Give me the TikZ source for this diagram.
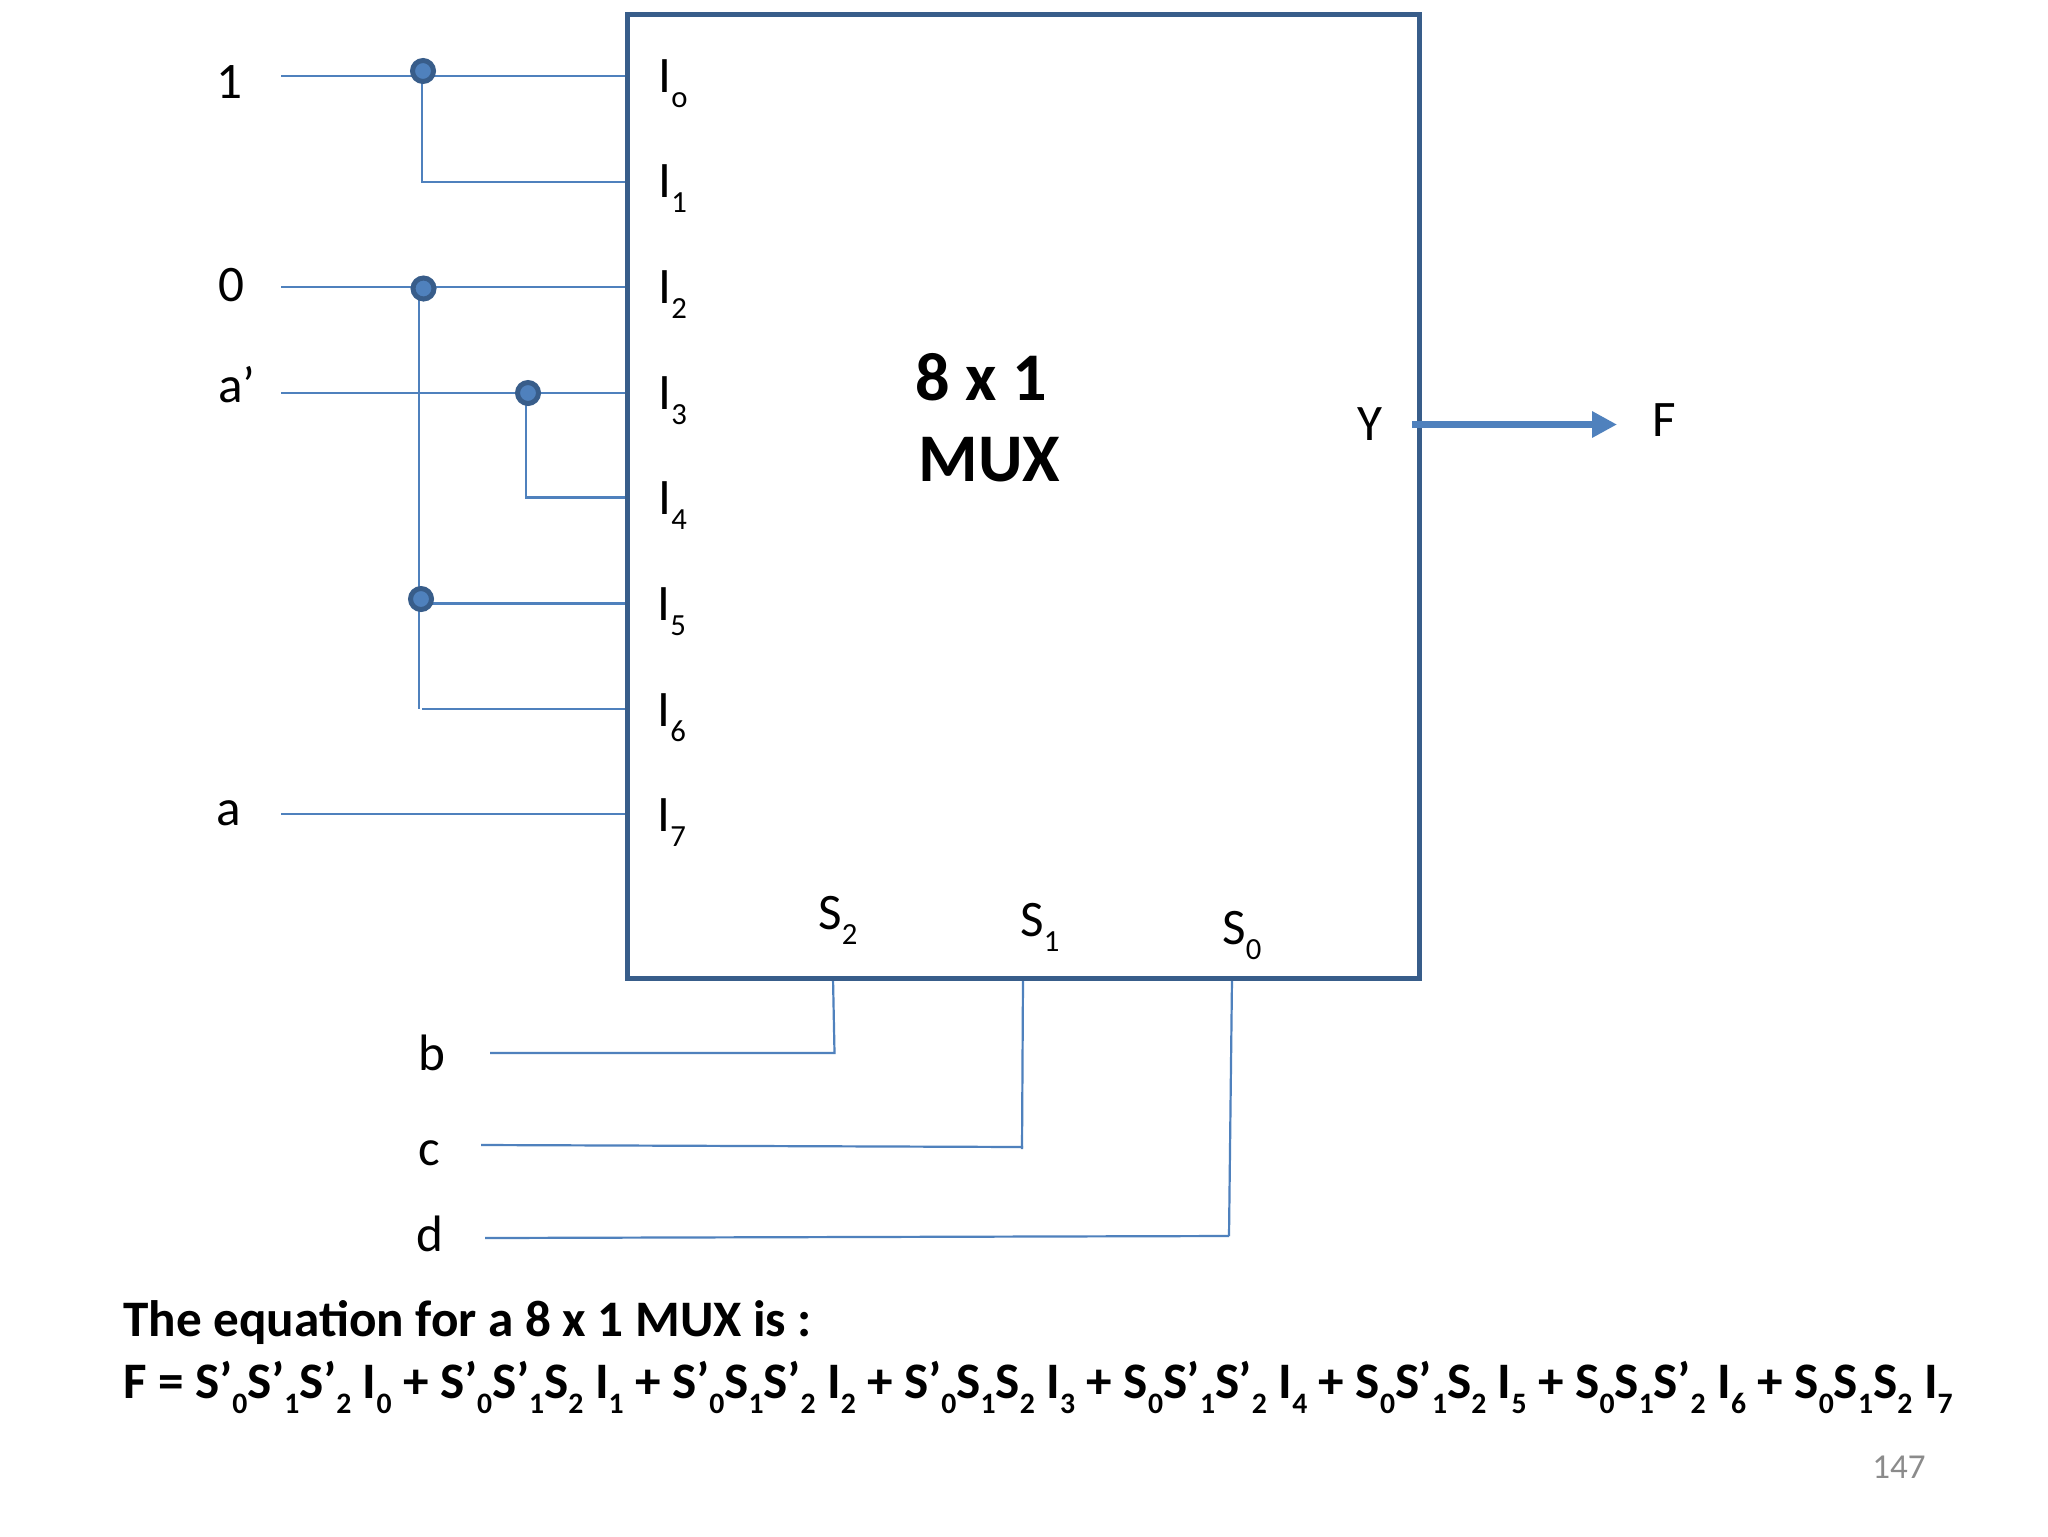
\documentclass[tikz,border=0pt]{standalone}
\usepackage{fontspec}
\usepackage{graphicx}
\setmainfont{Carlito}
\usetikzlibrary{arrows.meta}
\newcommand{\dn}[1]{\raisebox{-0.3em}{\scalebox{0.6}{#1}}}
\newcommand{\dq}[1]{\raisebox{-0.3em}{\scalebox{0.58}{#1}}}
\tikzset{
  wire/.style={draw=wireblue,line width=1.1pt},
  muxbox/.style={draw=boxblue,line width=2.5pt,line join=miter},
  dotnode/.style={circle,draw=boxblue,fill=wireblue,line width=2.5pt,minimum size=10.5pt,inner sep=0pt},
  lab/.style={anchor=base west,inner sep=0pt,font=\fontsize{25.6}{30}\selectfont,text=black},
  big/.style={anchor=base west,inner sep=0pt,font=\fontsize{34.1}{40}\selectfont\bfseries},
  eqn/.style={anchor=base west,inner sep=0pt,font=\fontsize{25.6}{30}\selectfont\bfseries},
  pagenum/.style={anchor=base west,inner sep=0pt,font=\fontsize{17.5}{20}\selectfont,text=pagegray},
  outarrow/.style={draw=wireblue,line width=3.6pt,-{Triangle[length=12.5pt,width=12.5pt]}}
}
\definecolor{wireblue}{HTML}{4F81BD}
\definecolor{boxblue}{HTML}{385D8A}
\definecolor{pagegray}{HTML}{8B8B8B}
\begin{document}
\begin{tikzpicture}[x=0.5pt,y=-0.5pt]
\useasboundingbox (0,0) rectangle (2048,1536);
\fill[white] (0,0) rectangle (2048,1536);
% ports and free ends
\coordinate (p0) at (626,76);
\coordinate (p1) at (626,181.6);
\coordinate (p2) at (626,287);
\coordinate (p3) at (626,392.6);
\coordinate (p4) at (626,497.5);
\coordinate (p5) at (626,603.5);
\coordinate (p6) at (626,709);
\coordinate (p7) at (626,814);
\coordinate (w1) at (281,76);
\coordinate (w0) at (281,287);
\coordinate (wa') at (281,392.6);
\coordinate (wa) at (281,814);
\coordinate (t1) at (422,181.6);
\coordinate (t2) at (419,709);
\coordinate (t2b) at (422,709);
\coordinate (t3) at (526,497.5);
\coordinate (wb) at (490,1053);
\coordinate (wc) at (481,1145);
\coordinate (wd) at (485,1238);
\coordinate (s2top) at (833,978);
\coordinate (s2bot) at (834.5,1053);
\coordinate (s1top) at (1023,978);
\coordinate (s1bot) at (1022,1149);
\coordinate (s1end) at (1023,1147);
\coordinate (s0top) at (1232,978);
\coordinate (s0bot) at (1229,1236);
\coordinate (yout) at (1412,424.5);
\coordinate (fend) at (1617,424.5);
% wires
\draw[wire] (w1) -- (p0);
\draw[wire] (422,71) -- (t1) -- (p1);
\draw[wire] (w0) -- (p2);
\draw[wire] (wa') -- (p3);
\draw[wire] (wa) -- (p7);
\draw[wire] (419,288) -- (t2);
\draw[wire] (t2b) -- (p6);
\draw[wire] (419,603.5) -- (p5);
\draw[wire] (526,393) -- (t3) -- (p4);
\draw[wire] (s2top) -- (s2bot) -- (wb);
\draw[wire] (s1top) -- (s1bot);
\draw[wire] (wc) -- (s1end);
\draw[wire] (s0top) -- (s0bot);
\draw[wire] (wd) -- (s0bot);
% box
\draw[muxbox] (627,15) rectangle (1419,978);
% junctions
\node[dotnode] (j1) at (423,71) {};
\node[dotnode] (j2) at (423.5,288.5) {};
\node[dotnode] (j3) at (528,393) {};
\node[dotnode] (j4) at (421,599) {};
% output
\draw[outarrow] (yout) -- (fend);
% left labels
\node[lab] (l1) at (216,98) {1};
\node[lab] (l0) at (218,301) {0};
\node[lab] (lap) at (218,402) {a’};
\node[lab] (la) at (216,825) {a};
\node[lab] (lb) at (418,1070) {b};
\node[lab] (lc) at (418,1165) {c};
\node[lab] (ld) at (416,1251) {d};
% inputs
\node[lab] (i0) at (658,92) {I\dn{o}};
\node[lab] (i1) at (658,197.5) {I\dn{1}};
\node[lab] (i2) at (658,303) {I\dn{2}};
\node[lab] (i3) at (658,409) {I\dn{3}};
\node[lab] (i4) at (658,514) {I\dn{4}};
\node[lab] (i5) at (657,620) {I\dn{5}};
\node[lab] (i6) at (657,726) {I\dn{6}};
\node[lab] (i7) at (657,831) {I\dn{7}};
\node[lab] (s2) at (818,929) {S\dn{2}};
\node[lab] (s1) at (1020,936) {S\dn{1}};
\node[lab] (s0) at (1222,944) {S\dn{0}};
\node[lab] (y) at (1357,440) {Y};
\node[lab] (f) at (1652,436) {F};
\node[big] (m1) at (915,400) {8 x 1};
\node[big] (m2) at (918,481) {MUX};
\node[eqn] (e1) at (123,1336) {The equation for a 8 x 1 MUX is :};
\node[eqn] (e2) at (123,1398) {F = S’\dq{0}S’\dq{1}S’\dq{2} I\dq{0} + S’\dq{0}S’\dq{1}S\dq{2} I\dq{1} + S’\dq{0}S\dq{1}S’\dq{2} I\dq{2} + S’\dq{0}S\dq{1}S\dq{2} I\dq{3} + S\dq{0}S’\dq{1}S’\dq{2} I\dq{4} + S\dq{0}S’\dq{1}S\dq{2} I\dq{5} + S\dq{0}S\dq{1}S’\dq{2} I\dq{6} + S\dq{0}S\dq{1}S\dq{2} I\dq{7}};
\node[pagenum] (pg) at (1872,1478) {147};
\end{tikzpicture}
\end{document}
